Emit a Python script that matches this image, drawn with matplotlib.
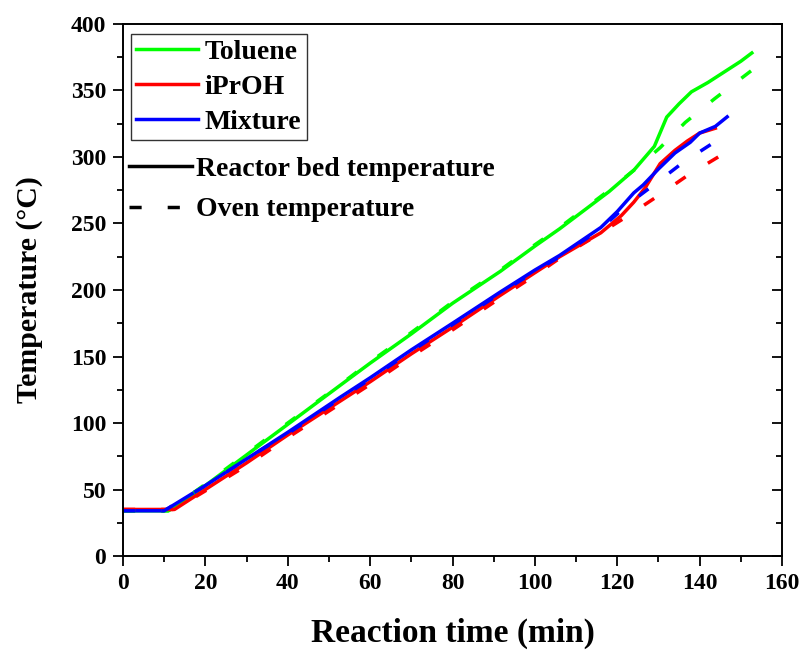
import numpy as np
import matplotlib
matplotlib.use("Agg")
import matplotlib.pyplot as plt
from matplotlib.lines import Line2D

plt.rcParams['font.family'] = ['Liberation Serif', 'DejaVu Serif']
plt.rcParams['font.weight'] = 'bold'

# Toluene
tol_bed_t = [0, 11, 20, 30, 40, 52.8, 60, 70, 80, 91.6, 100, 106, 112, 118, 124, 129, 132, 135, 138, 142, 146, 150, 153]
tol_bed_T = [34, 34, 53, 76, 99, 128.5, 145, 167, 190, 214, 233, 246, 260, 274, 290, 308, 330, 340, 349, 356, 364, 372, 379]
tol_oven_t = [0, 11, 20, 30, 40, 52.8, 60, 70, 80, 91.6, 100, 106, 112, 118, 124.8, 130.4, 136.5, 143.7, 153]
tol_oven_T = [34, 34, 54, 77, 100, 129, 146, 168, 191, 215, 234, 247, 261, 275, 292, 307, 326, 344, 366]

# iPrOH
ipr_bed_t = [0, 12.5, 20, 30, 40, 53, 60, 70, 80, 91.6, 100, 106, 116, 121, 124, 126.8, 130.4, 134, 137, 140, 144.2]
ipr_bed_T = [35, 35, 50, 70, 91, 117, 131, 152, 172, 196, 213, 225, 243, 256, 266, 277, 295, 305, 312, 318, 322]
ipr_oven_t = [0, 12.5, 20, 30, 40, 53, 60, 70, 80, 91.6, 100, 107, 115, 122.7, 130, 137, 144.5]
ipr_oven_T = [35, 35, 49, 68, 89, 115, 129, 150, 170, 194, 211, 226, 241, 256, 271, 286, 300]

# Mixture
mix_bed_t = [0, 10, 20, 30, 40, 52.8, 60, 70, 80, 91.6, 100, 106, 116, 120, 124, 126.3, 130, 134, 137.7, 140, 143.8, 147]
mix_bed_T = [34, 34, 53, 73, 93, 119.5, 134, 155, 175, 198.5, 215, 226, 247, 259, 273, 279, 291, 303, 311, 318, 323, 331]
mix_oven_t = [0, 10, 20, 30, 40, 52.8, 60, 70, 80, 91.6, 100, 106, 116, 122.4, 129.7, 136, 143, 145.5]
mix_oven_T = [34, 34, 53, 73, 92, 118.5, 133, 154, 174, 197.5, 214, 225, 246, 264, 281, 296, 310, 315]

series = [
    ("Toluene", "#00ff00", tol_bed_t, tol_bed_T, tol_oven_t, tol_oven_T),
    ("iPrOH", "#ff0000", ipr_bed_t, ipr_bed_T, ipr_oven_t, ipr_oven_T),
    ("Mixture", "#0000ff", mix_bed_t, mix_bed_T, mix_oven_t, mix_oven_T),
]

fig = plt.figure(figsize=(8.06, 6.5), dpi=100)
ax = fig.add_axes([0.1526, 0.1446, 0.8177, 0.8185])

lw = 2.5
dash = (0, (3.5, 7.5))
for name, col, bt, bT, ot, oT in series:
    ax.plot(bt, bT, color=col, lw=lw, solid_capstyle='butt')
for name, col, bt, bT, ot, oT in series:
    ax.plot(ot, oT, color=col, lw=lw, linestyle=dash, dash_capstyle='butt')

ax.set_xlim(0, 160)
ax.set_ylim(0, 400)
ax.set_xticks(np.arange(0, 161, 20))
ax.set_xticks(np.arange(0, 161, 10), minor=True)
ax.set_yticks(np.arange(0, 401, 50))
ax.set_yticks(np.arange(0, 401, 25), minor=True)
ax.tick_params(axis='both', which='major', direction='out', length=7, width=1.3,
               labelsize=17, pad=5)
ax.tick_params(axis='both', which='minor', direction='out', length=4, width=1.3)
ax.tick_params(axis='y', which='both', right=True)
for lbl in ax.get_xticklabels() + ax.get_yticklabels():
    lbl.set_fontweight('bold')

# right side ticks point inward
for t in ax.yaxis.get_major_ticks() + ax.yaxis.get_minor_ticks():
    t.tick2line.set_marker(matplotlib.markers.TICKLEFT)

for sp in ax.spines.values():
    sp.set_linewidth(1.4)

ax.set_xlabel("Reaction time (min)", fontsize=24, fontweight='bold', labelpad=17)
ax.set_ylabel("Temperature (\u00b0C)", fontsize=21.5, fontweight='bold', labelpad=20)

color_handles = [Line2D([], [], color=c, lw=lw) for _, c, *_ in series]
leg1 = ax.legend(color_handles, [s[0] for s in series], loc='upper left',
                 bbox_to_anchor=(0.012, 0.982), frameon=True, fancybox=False,
                 edgecolor='black', fontsize=20, handlelength=2.2,
                 handletextpad=0.25, labelspacing=0.35, borderpad=0.2,
                 borderaxespad=0)
leg1.get_frame().set_linewidth(1.0)
for t in leg1.get_texts():
    t.set_fontweight('bold')
ax.add_artist(leg1)

style_handles = [Line2D([], [], color='black', lw=lw),
                 Line2D([], [], color='black', lw=lw, linestyle=dash)]
leg2 = ax.legend(style_handles, ["Reactor bed temperature", "Oven temperature"],
                 loc='upper left', bbox_to_anchor=(0.0, 0.762), frameon=False,
                 fontsize=20, handlelength=2.3, handletextpad=0.12,
                 labelspacing=0.55, borderpad=0.2, borderaxespad=0)
for t in leg2.get_texts():
    t.set_fontweight('bold')

fig.savefig("out.png", dpi=100)
